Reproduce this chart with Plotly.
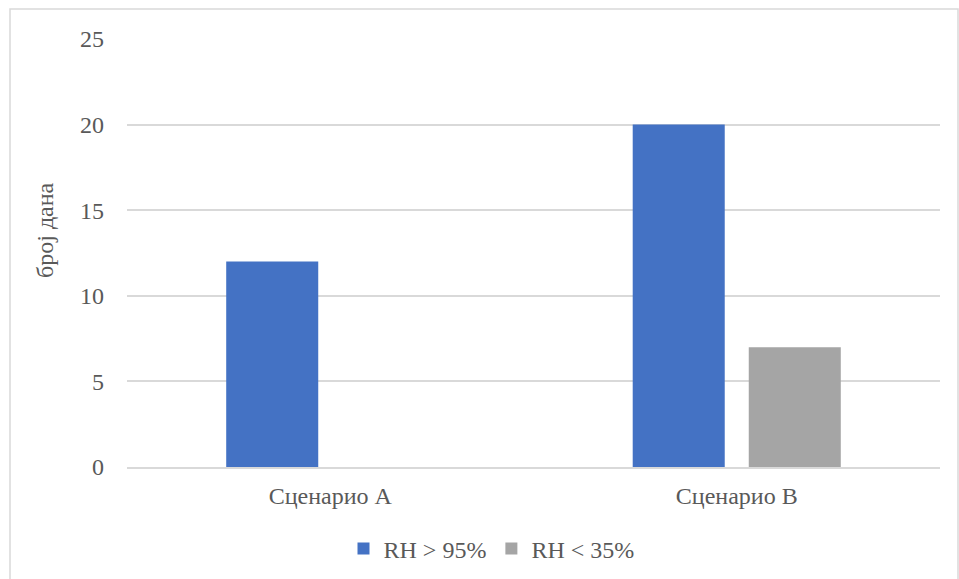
import plotly.graph_objects as go

categories = ["Сценарио A", "Сценарио B"]
rh_high = [12, 20]
rh_low = [0, 7]
series_names = ["RH > 95%", "RH < 35%"]
y_ticks = [0, 5, 10, 15, 20, 25]
y_title = "број дана"

W, H = 959, 579
L, R, T, B = 127, 19, 39, 112
pw, ph = W - L - R, H - T - B

font_fam = "Liberation Serif"
txt = "#595959"

fig = go.Figure()
fig.add_trace(go.Bar(x=categories, y=rh_high, name=series_names[0], marker_color="#4472C4",
                     marker_line_width=0))
fig.add_trace(go.Bar(x=categories, y=rh_low, name=series_names[1], marker_color="#A5A5A5",
                     marker_line_width=0))

fig.update_layout(
    width=W, height=H,
    margin=dict(l=L, r=R, t=T, b=B, autoexpand=False),
    paper_bgcolor="white", plot_bgcolor="white",
    barmode="group", bargap=0.429, bargroupgap=0.207,
    font=dict(family=font_fam, color=txt, size=24),
    showlegend=True,
    legend=dict(orientation="h", x=0.5 - 42 / pw, xanchor="center", y=-(549 - 467) / ph, yanchor="middle",
                font=dict(size=24, color=txt), itemwidth=30, traceorder="normal"),
    shapes=[dict(type="rect", xref="paper", yref="paper",
                 x0=(10 - L) / pw, x1=(958 - L) / pw, y0=(467 - 590) / ph, y1=(467 - 9) / ph,
                 line=dict(color="#D9D9D9", width=1.5), fillcolor="rgba(0,0,0,0)", layer="below")],
    annotations=[dict(text=y_title, xref="paper", yref="paper", x=(45 - L) / pw, y=(467 - 230) / ph,
                      xanchor="center", yanchor="middle", textangle=-90, showarrow=False,
                      font=dict(size=24, color=txt, family=font_fam))],
)
fig.update_xaxes(showgrid=False, showline=True, linecolor="#D9D9D9", linewidth=1.5,
                 tickfont=dict(size=24, color=txt, family=font_fam), ticks="", ticklabelstandoff=6)
fig.update_yaxes(range=[0, 25], tickvals=y_ticks, showgrid=True, gridcolor="#D9D9D9", gridwidth=1.5,
                 zeroline=False, showline=False, ticks="", ticklabelstandoff=22,
                 tickfont=dict(size=24, color=txt, family=font_fam))

fig.write_html("out.html")
